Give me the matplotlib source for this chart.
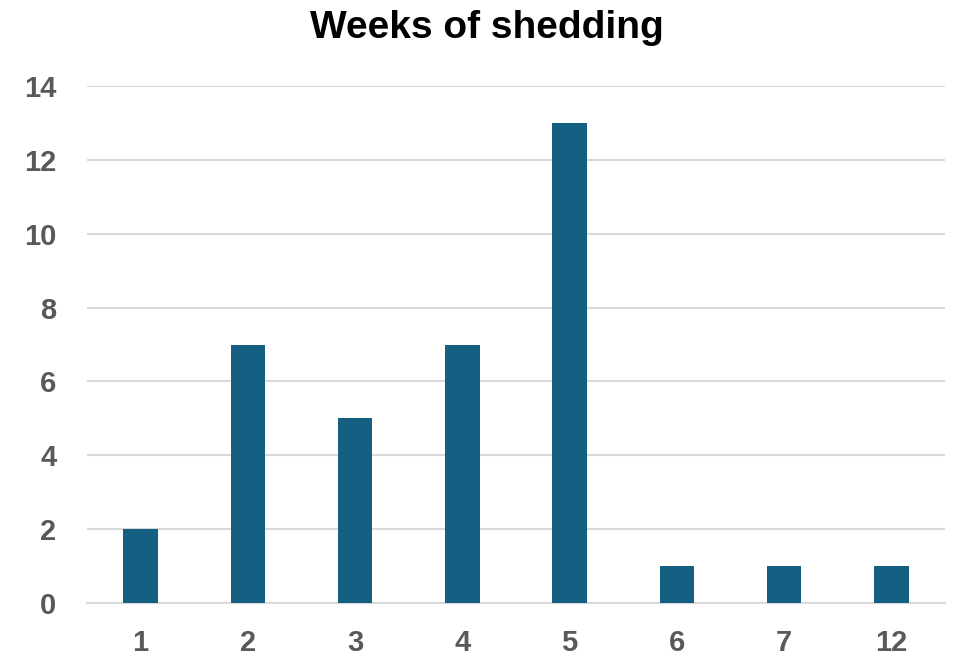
import matplotlib.pyplot as plt

# weeks of shedding vs. number of cases
weeks = ["1", "2", "3", "4", "5", "6", "7", "12"]
counts = [2, 7, 5, 7, 13, 1, 1, 1]

plt.rcParams['font.family'] = ['Liberation Sans', 'DejaVu Sans']

fig = plt.figure(figsize=(9.59, 6.56), dpi=100)
ax = fig.add_axes([87 / 959, 53 / 656, 858 / 959, 517 / 656])

x = range(len(weeks))
ax.bar(x, counts, width=0.32, color="#156082", zorder=3)

ax.set_xlim(-0.5, len(weeks) - 0.5)
ax.set_ylim(0, 14)
ax.set_yticks(range(0, 15, 2))
ax.set_xticks(list(x))
ax.set_xticklabels(weeks)

ax.grid(axis="y", color="#d9d9d9", linewidth=1.5, zorder=0)
for side in ["left", "right", "top"]:
    ax.spines[side].set_visible(False)
ax.spines["bottom"].set_color("#d9d9d9")
ax.spines["bottom"].set_linewidth(1.5)
ax.tick_params(length=0, labelsize=21, labelcolor="#595959")
ax.tick_params(axis="x", pad=19)
ax.tick_params(axis="y", pad=22)
for lbl in ax.get_xticklabels() + ax.get_yticklabels():
    lbl.set_fontweight("bold")

fig.text(487 / 959, 1 - 38 / 656, "Weeks of shedding", fontsize=28,
         fontweight="bold", ha="center", va="baseline")

fig.savefig("out.png", dpi=100)
